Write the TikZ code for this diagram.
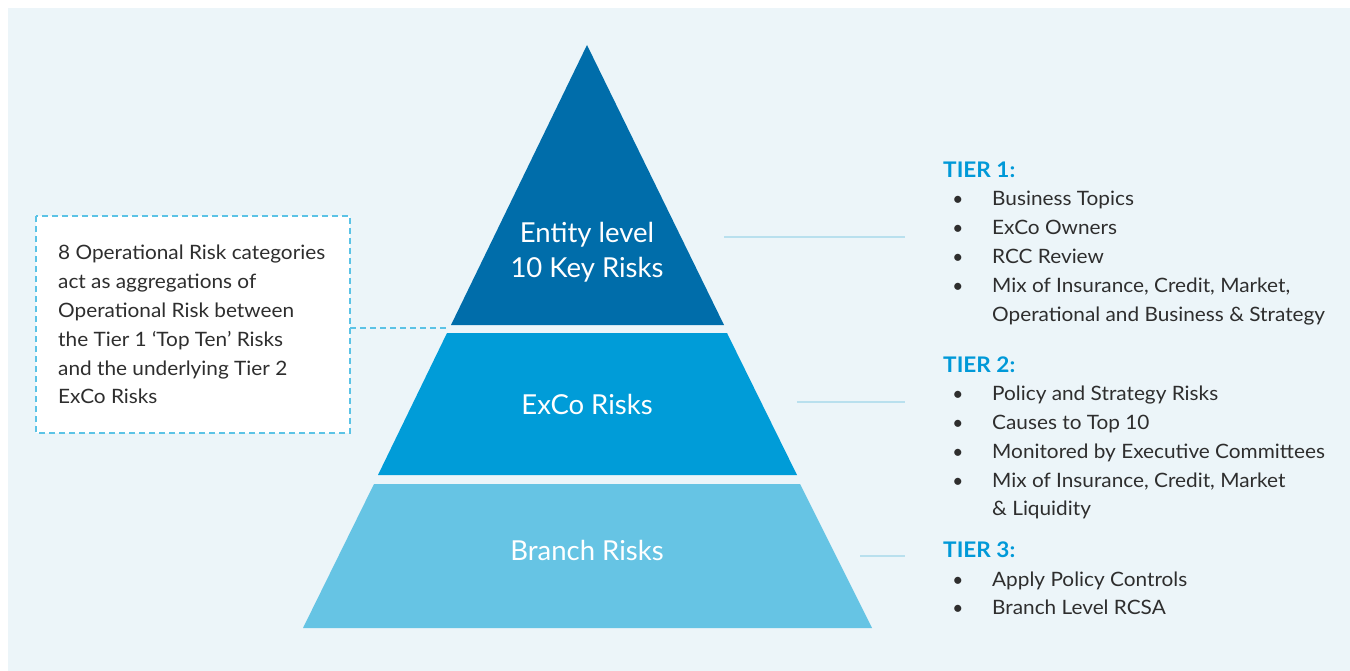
\documentclass[tikz,border=0pt]{standalone}
\usepackage{fontspec}
\setmainfont{Lato}
\newfontfamily\bodyfont{Lato}[FakeStretch=1.05]
\definecolor{bgc}{HTML}{ECF5F9}
\definecolor{tone}{HTML}{006DAA}
\definecolor{ttwo}{HTML}{009CD8}
\definecolor{tthree}{HTML}{66C4E4}
\definecolor{dashc}{HTML}{5BC3E6}
\definecolor{leadc}{HTML}{B9E0EE}
\definecolor{tierc}{HTML}{0099D8}
\definecolor{txtc}{HTML}{2E2E2E}
\begin{document}
\begin{tikzpicture}[x=1pt,y=-1pt,
  body/.style={font=\bodyfont\fontsize{19.8}{23}\selectfont, text=txtc, anchor=base west, inner sep=0pt},
  tierhead/.style={font=\bodyfont\fontsize{21.5}{24}\selectfont\bfseries, text=tierc, anchor=base west, inner sep=0pt},
  bul/.style={font=\fontsize{19}{23}\selectfont, text=txtc, anchor=base, inner sep=0pt},
  plabel/.style={font=\fontsize{27.5}{33}\selectfont, text=white, anchor=base, inner sep=0pt},
  leader/.style={draw=leadc, line width=2pt},
  dashbox/.style={draw=dashc, line width=2pt, dash pattern=on 6pt off 4pt}]
\useasboundingbox (0,0) rectangle (1350,671);
\fill[white] (0,0) rectangle (1350,671);
\fill[bgc] (8,8) rectangle (1350,671);
% pyramid
\fill[tone] (587,45) -- (724,325) -- (451,325) -- cycle;
\fill[ttwo] (447,333) -- (727,333) -- (797,475) -- (378,475) -- cycle;
\fill[tthree] (374,484) -- (800,484) -- (872,628) -- (303,628) -- cycle;
\node[plabel] (p1a) at (587,243) {Entity level};
\node[plabel] (p1b) at (587,278) {10 Key Risks};
\node[plabel] (p2) at (587,414) {ExCo Risks};
\node[plabel] (p3) at (587,560) {Branch Risks};
% dashed box
\fill[white] (36,216) rectangle (350,433);
\draw[dashbox] (36,216) rectangle (350,433);
\coordinate (boxr) at (350,328);
\coordinate (t2l) at (446,328);
\draw[dashbox] (boxr) -- (t2l);
\node[body] (b1) at (58,260) {8 Operational Risk categories};
\node[body] (b2) at (58,289) {act as aggregations of};
\node[body] (b3) at (58,317) {Operational Risk between};
\node[body] (b4) at (58,346) {the Tier 1 ‘Top Ten’ Risks};
\node[body] (b5) at (58,375) {and the underlying Tier 2};
\node[body] (b6) at (58,403) {ExCo Risks};
% leader lines
\coordinate (l1a) at (724,237); \coordinate (l1b) at (905,237);
\coordinate (l2a) at (797,402); \coordinate (l2b) at (905,402);
\coordinate (l3a) at (860,556); \coordinate (l3b) at (905,556);
\draw[leader] (l1a) -- (l1b);
\draw[leader] (l2a) -- (l2b);
\draw[leader] (l3a) -- (l3b);
% tier 1
\node[tierhead] (h1) at (943,178) {TIER 1:};
\foreach \y/\t [count=\i] in {206/Business Topics, 235/ExCo Owners, 264/RCC Review, 293/{Mix of Insurance, Credit, Market,}}{
  \node[bul] (ba\i) at (958,\y) {•};
  \node[body] (ta\i) at (992,\y) {\t};
}
\node[body] (ta5) at (992,321) {Operational and Business \& Strategy};
% tier 2
\node[tierhead] (h2) at (943,372) {TIER 2:};
\foreach \y/\t [count=\i] in {400/Policy and Strategy Risks, 429/Causes to Top 10, 458/Monitored by Executive Committees, 487/{Mix of Insurance, Credit, Market}}{
  \node[bul] (bb\i) at (958,\y) {•};
  \node[body] (tb\i) at (992,\y) {\t};
}
\node[body] (tb5) at (992,515) {\& Liquidity};
% tier 3
\node[tierhead] (h3) at (943,557) {TIER 3:};
\foreach \y/\t [count=\i] in {586/Apply Policy Controls, 614/Branch Level RCSA}{
  \node[bul] (bc\i) at (958,\y) {•};
  \node[body] (tc\i) at (992,\y) {\t};
}
\end{tikzpicture}
\end{document}
